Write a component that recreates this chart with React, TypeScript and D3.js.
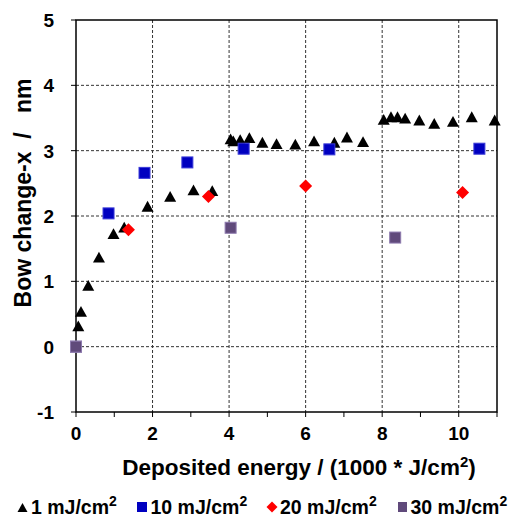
import React from "react";
import * as d3 from "d3";

const s1x = [0.06, 0.13, 0.32, 0.6, 0.98, 1.26, 1.87, 2.46, 3.07, 3.56, 4.04, 4.11, 4.29, 4.53, 4.87, 5.24, 5.73, 6.22, 6.75, 7.08, 7.5, 8.04, 8.23, 8.4, 8.6, 8.97, 9.36, 9.85, 10.34, 10.94];
const s1y = [0.31, 0.53, 0.93, 1.36, 1.72, 1.82, 2.14, 2.29, 2.39, 2.38, 3.17, 3.14, 3.16, 3.19, 3.12, 3.1, 3.09, 3.14, 3.12, 3.2, 3.13, 3.47, 3.51, 3.51, 3.49, 3.46, 3.41, 3.44, 3.51, 3.46];
const s10x = [0, 0.85, 1.79, 2.91, 4.38, 6.62, 10.54];
const s10y = [0, 2.04, 2.66, 2.82, 3.03, 3.02, 3.03];
const s20x = [0, 1.37, 3.46, 6.0, 10.1];
const s20y = [0, 1.79, 2.3, 2.46, 2.36];
const s30x = [0, 4.04, 8.34];
const s30y = [0, 1.82, 1.67];

const xTicks = [0, 2, 4, 6, 8, 10];
const xMinorTicks = [0, 1, 2, 3, 4, 5, 6, 7, 8, 9, 10, 11];
const yTicks = [-1, 0, 1, 2, 3, 4, 5];
const legendLabels = ["1 mJ/cm", "10 mJ/cm", "20 mJ/cm", "30 mJ/cm"];

const FONT = "'Liberation Sans', Arial, sans-serif";

const L = 76, R = 497, T = 20, B = 412;

export default function App() {
  const x = d3.scaleLinear().domain([0, 11]).range([L, R]);
  const y = d3.scaleLinear().domain([-1, 5]).range([B, T]);

  const tri = (cx: number, cy: number, s = 6) =>
    `M${cx},${cy - s} L${cx + s},${cy + s * 0.8} L${cx - s},${cy + s * 0.8} Z`;
  const dia = (cx: number, cy: number, s = 6.5) =>
    `M${cx},${cy - s} L${cx + s},${cy} L${cx},${cy + s} L${cx - s},${cy} Z`;

  const blue = "#0000c0";
  const red = "#ff0000";
  const purple = "#604a7b";

  return (
    <svg
      width={508}
      height={520}
      style={{ position: "absolute", left: 0, top: 0, background: "#fff" }}
      fontFamily={FONT}
    >
      <rect x={0} y={0} width={508} height={520} fill="#fff" />
      {/* grid */}
      {xTicks.filter((t) => t > 0).map((t) => (
        <line key={"gx" + t} x1={x(t)} x2={x(t)} y1={T} y2={B} stroke="#333" strokeWidth={1} strokeDasharray="3,2" />
      ))}
      {yTicks.filter((t) => t > -1 && t < 5).map((t) => (
        <line key={"gy" + t} x1={L} x2={R} y1={y(t)} y2={y(t)} stroke="#333" strokeWidth={1} strokeDasharray="3,2" />
      ))}
      {/* frame */}
      <rect x={L} y={T} width={R - L} height={B - T} fill="none" stroke="#000" strokeWidth={1.5} />
      {/* ticks */}
      {xMinorTicks.map((t) => (
        <line key={"xt" + t} x1={x(t)} x2={x(t)} y1={B} y2={B + 5} stroke="#000" strokeWidth={1} />
      ))}
      {yTicks.map((t) => (
        <line key={"yt" + t} x1={L - 5} x2={L} y1={y(t)} y2={y(t)} stroke="#000" strokeWidth={1} />
      ))}
      {xTicks.map((t) => (
        <text key={"xl" + t} x={x(t)} y={440} textAnchor="middle" fontSize={19} fontWeight="bold">{t}</text>
      ))}
      {yTicks.map((t) => (
        <text key={"yl" + t} x={54} y={y(t) + 7} textAnchor="end" fontSize={19} fontWeight="bold">{t}</text>
      ))}
      {/* axis titles */}
      <text x={299} y={475} textAnchor="middle" fontSize={22.5} fontWeight="bold">
        Deposited energy / (1000 * J/cm<tspan dy={-8} fontSize={15}>2</tspan><tspan dy={8}>)</tspan>
      </text>
      <text
        transform={`translate(31,193) rotate(-90)`}
        textAnchor="middle"
        fontSize={23}
        fontWeight="bold"
        style={{ whiteSpace: "pre" }}
      >
        {"Bow change-x\u00a0\u00a0/\u00a0\u00a0 nm"}
      </text>
      {/* series */}
      {s30x.map((v, i) => (
        <rect key={"p" + i} x={x(v) - 5.5} y={y(s30y[i]) - 5.5} width={11} height={11} fill={purple} stroke="#8d7aae" strokeWidth={1} />
      ))}
      {s1x.map((v, i) => (
        <path key={"t" + i} d={tri(x(v), y(s1y[i]))} fill="#000" />
      ))}
      {s10x.map((v, i) =>
        i === 0 ? null : (
          <rect key={"b" + i} x={x(v) - 5.5} y={y(s10y[i]) - 5.5} width={11} height={11} fill={blue} stroke="#3b3bd8" strokeWidth={1} />
        )
      )}
      {s20x.map((v, i) =>
        i === 0 ? null : <path key={"r" + i} d={dia(x(v), y(s20y[i]))} fill={red} />
      )}
      {/* zero point overlap: red, blue under purple */}
      <rect x={x(0) - 5.5} y={y(0) - 5.5} width={11} height={11} fill={purple} stroke="#8d7aae" strokeWidth={1} />
      {/* legend */}
      <g fontSize={19.5} fontWeight="bold">
        <path d={tri(22.5, 508, 5)} fill="#000" />
        <text x={31} y={514}>{legendLabels[0]}<tspan dy={-8} fontSize={14}>2</tspan></text>
        <rect x={137} y={502} width={10} height={10} fill={blue} />
        <text x={150.5} y={514}>{legendLabels[1]}<tspan dy={-8} fontSize={14}>2</tspan></text>
        <path d={dia(272, 507, 5.5)} fill={red} />
        <text x={280} y={514}>{legendLabels[2]}<tspan dy={-8} fontSize={14}>2</tspan></text>
        <rect x={398} y={502} width={9} height={10} fill={purple} />
        <text x={410.5} y={514}>{legendLabels[3]}<tspan dy={-8} fontSize={14}>2</tspan></text>
      </g>
    </svg>
  );
}
